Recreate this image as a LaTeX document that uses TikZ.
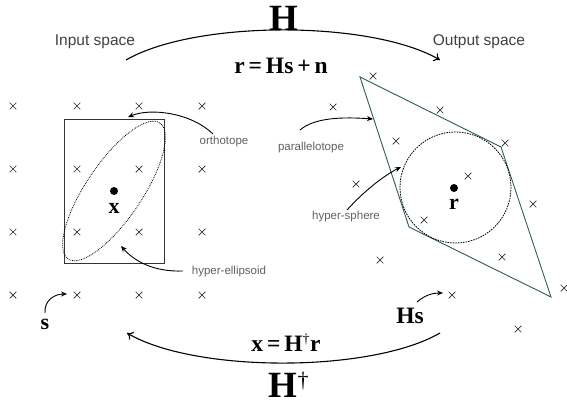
\documentclass[tikz,border=0pt]{standalone}
\usepackage{fontspec}
\setmainfont{Liberation Serif}
\newfontfamily\lblfont{Liberation Sans}
\usetikzlibrary{shapes.misc,arrows.meta}
\definecolor{pgreen}{HTML}{2F5F3F}
\definecolor{lblgray}{HTML}{606060}
\tikzset{
  xmark/.style={cross out,draw=black!85,line width=0.7pt,minimum size=6pt,inner sep=0pt},
  bigarc/.style={line width=1.1pt,-{To[length=6pt,width=9pt]}},
  lblarrow/.style={line width=0.9pt,-{Stealth[length=6pt,width=5pt]}},
  lbl/.style={font=\lblfont\fontsize{11.5}{12}\selectfont,text=lblgray,inner sep=0pt},
  spacelbl/.style={font=\lblfont\fontsize{15.5}{16}\selectfont,text=black!75,inner sep=0pt},
  mathlbl/.style={font=\bfseries\fontsize{23.5}{24}\selectfont,inner sep=0pt},
  biglbl/.style={font=\bfseries\fontsize{37}{37}\selectfont,inner sep=0pt},
  dotnode/.style={circle,fill=black,minimum size=8pt,inner sep=0pt}
}
\begin{document}
\begin{tikzpicture}[x=1pt,y=-1pt]
\useasboundingbox (0,0) rectangle (567,407);
% left grid
\foreach \i/\x in {1/13,2/77,3/139,4/202}{
  \foreach \j/\y in {1/106,2/169,3/232,4/295}{
    \node[xmark] (L\i\j) at (\x,\y) {};
  }
}
% right crosses
\foreach \k/\p in {1/{373,76},2/{333,107},3/{440,110},4/{396,141},5/{505,143},6/{468,176},7/{356,184},8/{533,204},9/{424,220},10/{380,260},11/{502,257},12/{452,295},13/{564,288},14/{518,329}}{
  \node[xmark] (R\k) at (\p) {};
}
% left shapes
\draw[line width=0.9pt,black!80] (64,119) rectangle (164,263);
\draw[densely dotted,line width=0.8pt] (114,191) [rotate around={56:(114,191)}] ellipse [x radius=82, y radius=28];
\node[dotnode] (xdot) at (114,191) {};
\node[font=\bfseries\fontsize{22}{22}\selectfont,inner sep=0pt] (xl) at (114,208) {x};
% right shapes
\coordinate (pT) at (360,77);
\coordinate (pR) at (501,147);
\coordinate (pB) at (551,297);
\coordinate (pL) at (409,227);
\draw[pgreen,line width=0.9pt] (pT) -- (pR) -- (pB) -- (pL) -- cycle;
\draw[dash pattern=on 1.6pt off 1pt,line width=0.8pt] (455.5,187.5) circle [radius=55.5];
\node[dotnode] (rdot) at (454,188) {};
\node[font=\bfseries\fontsize{22}{22}\selectfont,inner sep=0pt] (rl) at (454,204) {r};
% titles
\node[spacelbl] (inp) at (95,42) {Input space};
\node[spacelbl] (outp) at (479,42) {Output space};
\node[biglbl] (H) at (284,18) {H};
\node[mathlbl] (eq1) at (281,66) {r\,=\,Hs\,+\,n};
\node[mathlbl] (eq2) at (286,343) {x\,=\,H\textsuperscript{\mdseries\fontsize{14}{14}\selectfont\raisebox{-1pt}{†}}r};
\node[biglbl] (Hd) at (289,385) {H\textsuperscript{\mdseries\fontsize{22}{22}\selectfont\raisebox{1pt}{†}}};
% big arcs
\coordinate (a1s) at (126,60);
\coordinate (a1e) at (440,60);
\coordinate (a2s) at (440,333);
\coordinate (a2e) at (127,333);
\draw[bigarc] (a1s) .. controls (195,20) and (371,20) .. (a1e);
\draw[bigarc] (a2s) .. controls (371,373) and (195,373) .. (a2e);
% small labels
\node[mathlbl,font=\bfseries\fontsize{22}{22}\selectfont] (sl) at (45,324) {s};
\node[mathlbl] (Hsl) at (410,316) {Hs};
\node[lbl] (orth) at (224,142) {orthotope};
\node[lbl] (hell) at (229,272) {hyper-ellipsoid};
\node[lbl] (para) at (311,148) {parallelotope};
\node[lbl] (hsph) at (346,217) {hyper-sphere};
\coordinate (sT) at (67,294);
\coordinate (HsT) at (443,293);
\coordinate (orT) at (128,117);
\coordinate (heT) at (121,246);
\coordinate (paT) at (373,119);
\coordinate (hsT) at (401,167);
\draw[lblarrow] (45,313) .. controls (44,300) and (55,294) .. (sT);
\draw[lblarrow] (417,302) .. controls (425,295) and (433,293) .. (HsT);
\draw[lblarrow] (213,134) .. controls (190,112) and (150,108) .. (orT);
\draw[lblarrow] (183,271) .. controls (155,272) and (135,262) .. (heT);
\draw[lblarrow] (300,130) .. controls (315,117) and (345,117) .. (paT);
\draw[lblarrow] (347,210) .. controls (365,190) and (385,175) .. (hsT);
\end{tikzpicture}
\end{document}
